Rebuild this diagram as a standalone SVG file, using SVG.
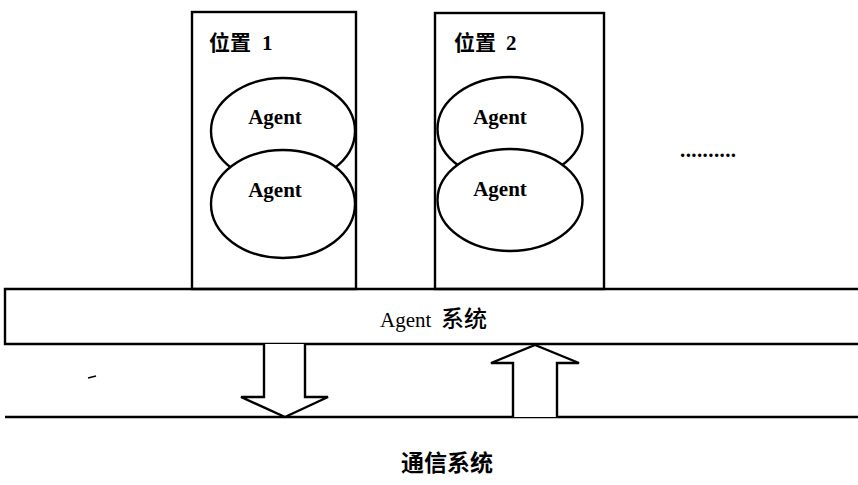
<svg xmlns="http://www.w3.org/2000/svg" width="858" height="485" viewBox="0 0 858 485">
<style>
.ln{fill:none;stroke:#000;stroke-width:2.4}
.box{fill:#fff;stroke:#000;stroke-width:2.4}
.ag{font-family:"Liberation Serif","Noto Sans CJK SC",serif;font-size:21px;font-weight:bold;text-anchor:middle;fill:#000}
.lb{font-family:"Liberation Serif","Noto Sans CJK SC",serif;font-size:21px;font-weight:bold;fill:#000}
.cj{font-family:"Noto Sans CJK SC",sans-serif;font-weight:bold;fill:#000}
</style>
<rect width="858" height="485" fill="#fff"/>
<g id="loc1">
<rect class="box" x="192" y="12" width="164" height="277"/>
<text x="209" y="50" class="cj" font-size="21">位置</text>
<text x="262" y="50" class="lb">1</text>
<ellipse class="box" cx="283" cy="131" rx="72" ry="53"/>
<ellipse class="box" cx="283" cy="204" rx="72" ry="54"/>
<text x="275" y="124" class="ag">Agent</text>
<text x="275" y="197" class="ag">Agent</text>
</g>
<g id="loc2">
<rect class="box" x="435" y="13" width="169" height="276"/>
<text x="454" y="50" class="cj" font-size="21">位置</text>
<text x="506" y="50" class="lb">2</text>
<ellipse class="box" cx="510" cy="129" rx="72.5" ry="52"/>
<ellipse class="box" cx="510" cy="200" rx="72.5" ry="51"/>
<text x="500" y="124" class="ag">Agent</text>
<text x="500" y="196" class="ag">Agent</text>
</g>
<g id="more">
<text x="680" y="157" class="lb" font-size="21" letter-spacing="0.4">..........</text>
</g>
<g id="agent-system">
<path class="ln" d="M860 289H5V344H860"/>
<text x="380" y="327" font-family="Liberation Serif,serif" font-size="21" fill="#000">Agent</text>
<text x="441" y="327" font-family="Noto Sans CJK SC,sans-serif" font-size="23" font-weight="500" fill="#000">系统</text>
</g>
<g id="comm-system">
<path class="ln" d="M5 417H858"/>
<text x="447" y="471" class="cj" font-size="23" text-anchor="middle">通信系统</text>
</g>
<g id="connectors">
<path class="box" d="M264 344V397H241L285 417L328 397H305V344"/>
<path class="box" d="M513 417V363H491L535 345L579 363H557V417"/>
</g>
<path d="M88 378L96 376" stroke="#000" stroke-width="1.5"/>
</svg>
